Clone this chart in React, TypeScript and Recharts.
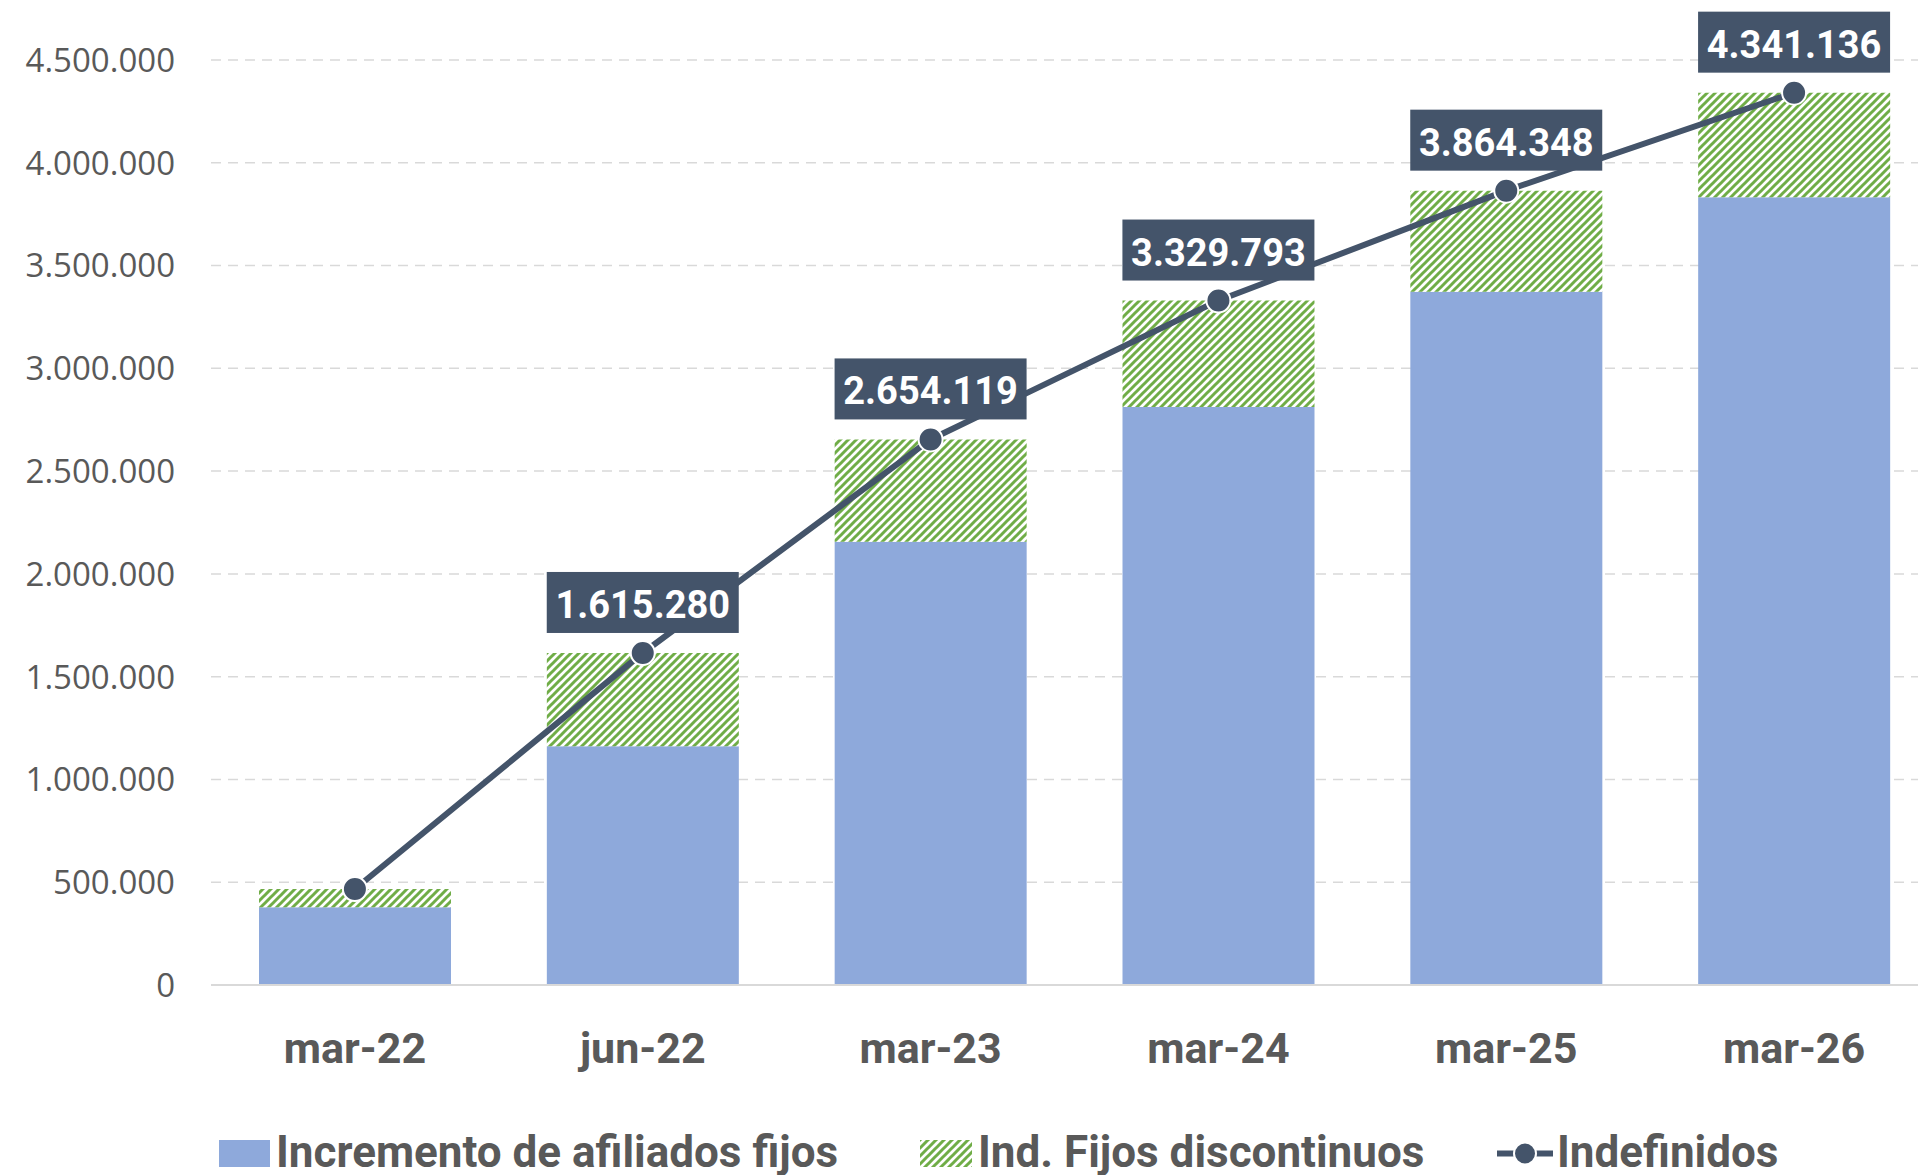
import React from "react";
import {
  ComposedChart,
  Bar,
  Line,
  XAxis,
  YAxis,
  CartesianGrid,
  Legend,
  LabelList,
} from "recharts";

// values
const categories = ["mar-22", "jun-22", "mar-23", "mar-24", "mar-25", "mar-26"];
const incrementoFijos = [378000, 1161000, 2156000, 2812000, 3372000, 3832000];
const fijosDiscontinuos = [89000, 454000, 498000, 518000, 492000, 509000];
const indefinidos = [467000, 1615280, 2654119, 3329793, 3864348, 4341136];
const yTicks = [0, 500000, 1000000, 1500000, 2000000, 2500000, 3000000, 3500000, 4000000, 4500000];

const BLUE = "#8EA9DB";
const GREEN = "#70AD47";
const SLATE = "#44546A";
const GREY_TEXT = "#595959";
const GRID = "#D9D9D9";
const BOLD_FONT = "Roboto, 'Noto Sans', sans-serif";

const fmt = (v: number) => String(Math.round(v)).replace(/\B(?=(\d{3})+(?!\d))/g, ".");

const data = categories.map((c, i) => ({
  name: c,
  fijos: incrementoFijos[i],
  discontinuos: fijosDiscontinuos[i],
  indefinidos: indefinidos[i],
}));

function YTick(props: any) {
  const { x, y, payload } = props;
  return (
    <text x={x} y={y} dy="0.36em" textAnchor="end" fill={GREY_TEXT}
      style={{ fontFamily: "'Open Sans', sans-serif", fontSize: 33 }}>
      {fmt(payload.value)}
    </text>
  );
}

function XTick(props: any) {
  const { x, y, payload } = props;
  return (
    <text x={x} y={y} dy={70} textAnchor="middle" fill={GREY_TEXT}
      style={{ fontFamily: BOLD_FONT, fontSize: 43, fontWeight: 700 }}>
      {payload.value}
    </text>
  );
}

// dark box with the total above each point (the first one has none)
function ValueBox(props: any) {
  const { x, y, value, index } = props;
  if (index === 0 || x == null || y == null) return null;
  const w = 192;
  const h = 61;
  return (
    <g>
      <rect x={x - w / 2} y={y - 20 - h} width={w} height={h} fill={SLATE} />
      <text x={x} y={y - 35} textAnchor="middle" fill="#fff"
        style={{ fontFamily: BOLD_FONT, fontSize: 38, fontWeight: 700 }}>
        {fmt(value)}
      </text>
    </g>
  );
}

function LegendContent() {
  const textStyle: React.CSSProperties = {
    fontFamily: BOLD_FONT,
    fontSize: 44,
    fontWeight: 700,
    color: GREY_TEXT,
    lineHeight: "44px",
    paddingTop: 15,
    marginLeft: 6,
    whiteSpace: "nowrap",
  };
  return (
    <div style={{ display: "flex", alignItems: "flex-start", height: 60, paddingLeft: 219 }}>
      <div style={{ display: "flex", width: 701 }}>
        <div style={{ width: 51, height: 27, marginTop: 25, background: BLUE }} />
        <span style={textStyle}>Incremento de afiliados fijos</span>
      </div>
      <div style={{ display: "flex", width: 577 }}>
        <svg width={52} height={27} style={{ marginTop: 25 }}>
          <rect width={52} height={27} fill="url(#hatch)" />
        </svg>
        <span style={textStyle}>Ind. Fijos discontinuos</span>
      </div>
      <div style={{ display: "flex" }}>
        <svg width={56} height={27} style={{ marginTop: 25 }}>
          <line x1={0} y1={13.5} x2={56} y2={13.5} stroke={SLATE} strokeWidth={6} />
          <circle cx={28} cy={13.5} r={11} fill={SLATE} stroke="#fff" strokeWidth={2} />
        </svg>
        <span style={{ ...textStyle, marginLeft: 4 }}>Indefinidos</span>
      </div>
    </div>
  );
}

export default function App() {
  return (
    <div style={{ position: "absolute", left: 0, top: 0, width: 1918, height: 1175, overflow: "hidden", background: "#fff" }}>
      <ComposedChart
        width={1938}
        height={1175}
        data={data}
        margin={{ top: 60, right: 0, bottom: 0, left: 0 }}
      >
        <defs>
          <pattern id="hatch" patternUnits="userSpaceOnUse" width={8} height={8}>
            <rect width={8} height={8} fill="#fff" />
            <path d="M-2,2 l4,-4 M0,8 l8,-8 M6,10 l4,-4" stroke={GREEN} strokeWidth={3} />
          </pattern>
        </defs>
        <CartesianGrid vertical={false} stroke={GRID} strokeWidth={1.5} strokeDasharray="10 7" />
        <XAxis
          dataKey="name"
          height={130}
          axisLine={{ stroke: GRID, strokeWidth: 2 }}
          tickLine={false}
          tick={<XTick />}
          interval={0}
        />
        <YAxis
          width={211}
          domain={[0, 4500000]}
          ticks={yTicks}
          axisLine={false}
          tickLine={false}
          tickSize={0}
          tickMargin={36}
          tick={<YTick />}
        />
        <Legend verticalAlign="bottom" wrapperStyle={{ left: 0, bottom: 0, width: 1938, height: 60 }} content={<LegendContent />} />
        <Bar dataKey="fijos" name="Incremento de afiliados fijos" stackId="a" fill={BLUE} barSize={192} isAnimationActive={false} />
        <Bar dataKey="discontinuos" name="Ind. Fijos discontinuos" stackId="a" fill="url(#hatch)" barSize={192} isAnimationActive={false} />
        <Line
          dataKey="indefinidos"
          name="Indefinidos"
          type="linear"
          stroke={SLATE}
          strokeWidth={6}
          dot={{ r: 12, fill: SLATE, stroke: "#fff", strokeWidth: 2 }}
          isAnimationActive={false}
        >
          <LabelList dataKey="indefinidos" content={<ValueBox />} />
        </Line>
      </ComposedChart>
    </div>
  );
}
